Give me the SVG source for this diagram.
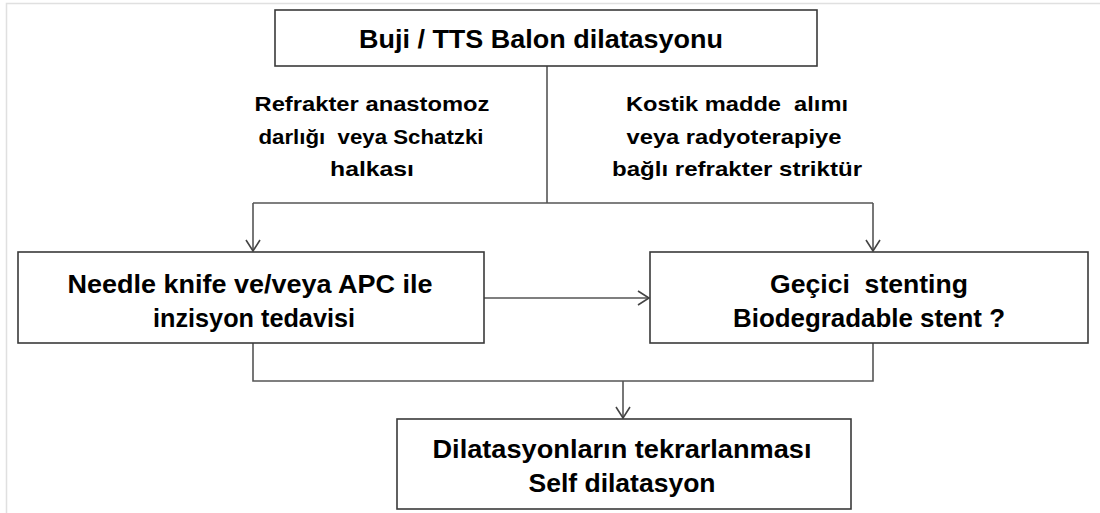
<svg xmlns="http://www.w3.org/2000/svg" width="1100" height="513" viewBox="0 0 1100 513">
<defs>
<style>
.box{fill:#fff;stroke:#3a3a3a;stroke-width:1.6}
.t{font-family:"Liberation Sans",Arial,sans-serif;font-weight:bold;fill:#000;text-anchor:middle}
.big{font-size:26px}
.lab{font-size:21px}
.c{fill:none;stroke:#555;stroke-width:1.6}
</style>
<marker id="ah" markerWidth="16" markerHeight="16" refX="12" refY="8" orient="auto" markerUnits="userSpaceOnUse">
<path d="M1,1 L12,8 L1,15" fill="none" stroke="#444" stroke-width="1.6"/>
</marker>
</defs>
<rect x="0" y="0" width="1100" height="513" fill="#fff"/>
<path d="M6.5,513 V3.5 H1100" fill="none" stroke="#e0e0e0" stroke-width="1.5"/>
<g id="connectors">
<path class="c" d="M547,66 V203"/>
<path class="c" d="M253,203 H873"/>
<path class="c" d="M253,203 V251" marker-end="url(#ah)"/>
<path class="c" d="M873,203 V251" marker-end="url(#ah)"/>
<path class="c" d="M484,298 H649" marker-end="url(#ah)"/>
<path class="c" d="M253,343 V381 H873 V343"/>
<path class="c" d="M623,381 V418" marker-end="url(#ah)"/>
</g>
<g id="labels">
<text class="t lab" x="372" y="111" textLength="235" lengthAdjust="spacingAndGlyphs">Refrakter anastomoz</text>
<text class="t lab" x="371" y="144" textLength="225" lengthAdjust="spacingAndGlyphs" xml:space="preserve">darlığı  veya Schatzki</text>
<text class="t lab" x="372" y="176" textLength="84" lengthAdjust="spacingAndGlyphs">halkası</text>
<text class="t lab" x="737" y="111" textLength="222" lengthAdjust="spacingAndGlyphs" xml:space="preserve">Kostik madde  alımı</text>
<text class="t lab" x="734" y="144" textLength="215" lengthAdjust="spacingAndGlyphs">veya radyoterapiye</text>
<text class="t lab" x="737" y="176" textLength="250" lengthAdjust="spacingAndGlyphs">bağlı refrakter striktür</text>
</g>
<g id="node-top">
<rect class="box" x="275" y="10" width="542" height="56"/>
<text class="t big" x="541" y="48" textLength="364" lengthAdjust="spacingAndGlyphs">Buji / TTS Balon dilatasyonu</text>
</g>
<g id="node-left">
<rect class="box" x="18" y="252" width="466" height="91"/>
<text class="t big" x="250" y="293" textLength="365" lengthAdjust="spacingAndGlyphs">Needle knife ve/veya APC ile</text>
<text class="t big" x="254" y="327" textLength="202" lengthAdjust="spacingAndGlyphs">inzisyon tedavisi</text>
</g>
<g id="node-right">
<rect class="box" x="650" y="252" width="438" height="91"/>
<text class="t big" x="869" y="293" textLength="198" lengthAdjust="spacingAndGlyphs" xml:space="preserve">Geçici  stenting</text>
<text class="t big" x="869" y="327" textLength="272" lengthAdjust="spacingAndGlyphs">Biodegradable stent ?</text>
</g>
<g id="node-bottom">
<rect class="box" x="397" y="419" width="454" height="90"/>
<text class="t big" x="622" y="458" textLength="379" lengthAdjust="spacingAndGlyphs">Dilatasyonların tekrarlanması</text>
<text class="t big" x="622" y="492" textLength="187" lengthAdjust="spacingAndGlyphs">Self dilatasyon</text>
</g>
</svg>
